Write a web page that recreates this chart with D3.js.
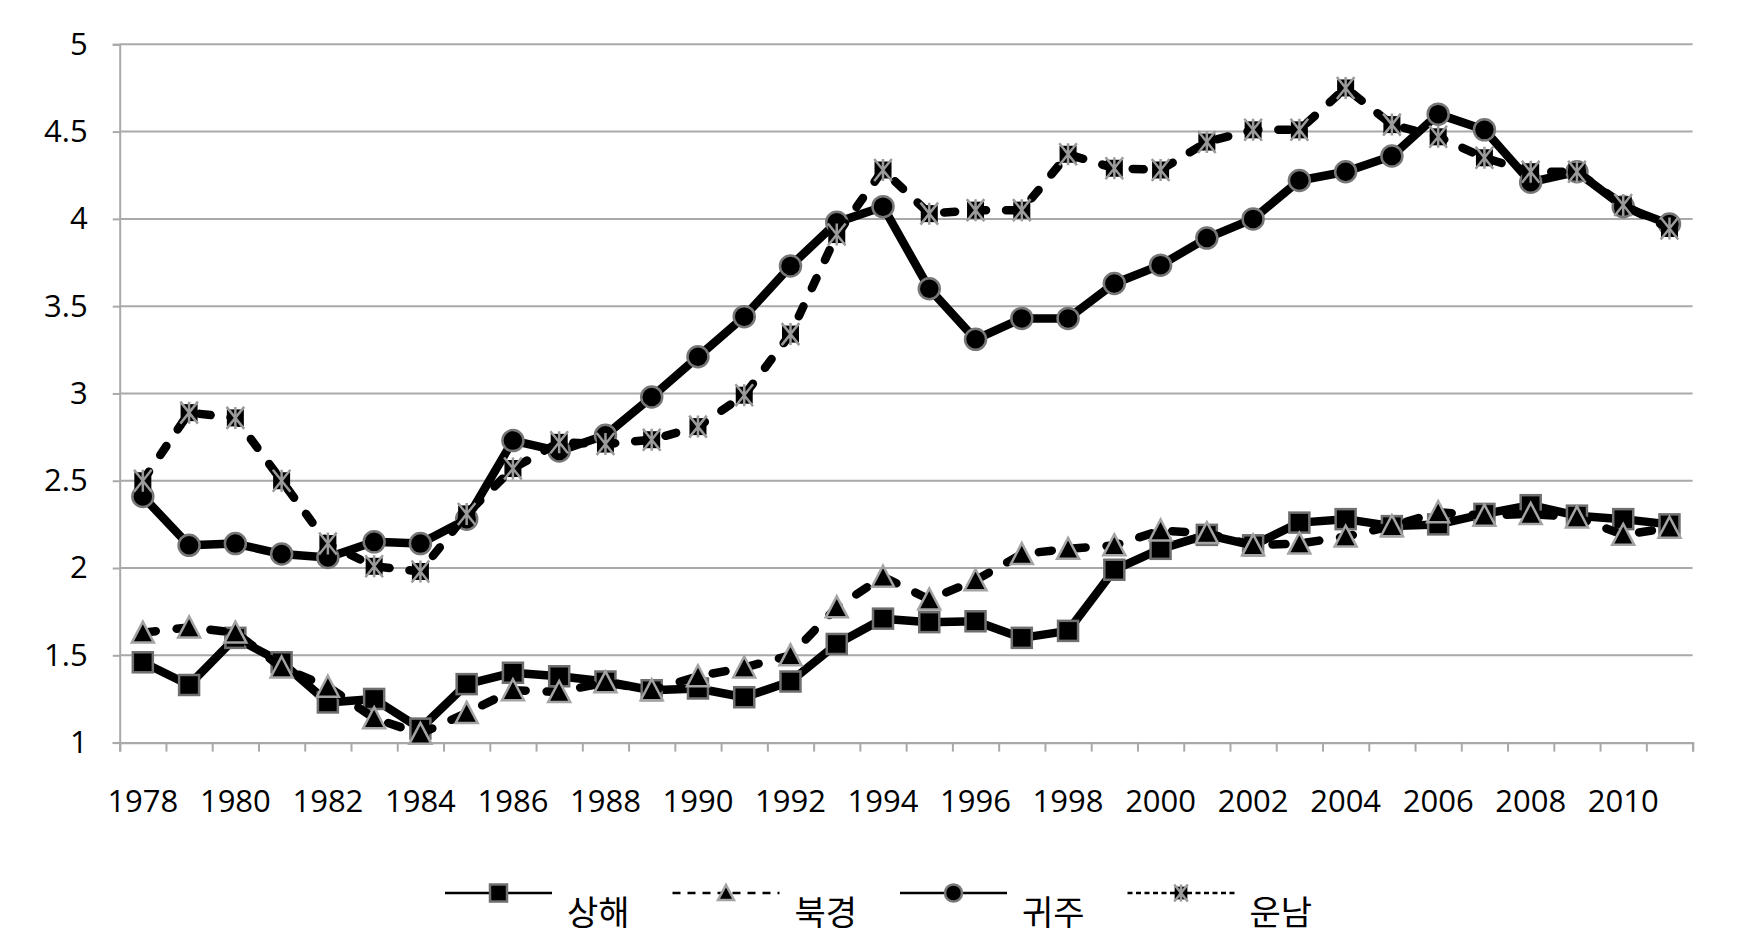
<!DOCTYPE html>
<html>
<head>
<meta charset="utf-8">
<script src="https://cdn.jsdelivr.net/npm/d3@7/dist/d3.min.js"></script>
<style>
  html, body { margin: 0; padding: 0; background: #fff; }
  svg { display: block; }
</style>
</head>
<body>
<svg id="chart" width="1738" height="951"></svg>
<script>
// ---- data ----
const years = d3.range(1978, 2012);
const yTicks = [1, 1.5, 2, 2.5, 3, 3.5, 4, 4.5, 5];
const xLabelYears = years.filter((y, i) => i % 2 === 0);

const seriesNames = ["상해", "북경", "귀주", "운남"];

const shanghai = [1.46, 1.33, 1.60, 1.46, 1.23, 1.25, 1.08, 1.335, 1.40, 1.38,
  1.35, 1.30, 1.31, 1.26, 1.35, 1.565, 1.71, 1.69, 1.695, 1.60,
  1.64, 1.99, 2.11, 2.19, 2.13, 2.26, 2.28, 2.24, 2.25, 2.31,
  2.36, 2.30, 2.28, 2.25];
const beijing = [1.63, 1.66, 1.63, 1.43, 1.32, 1.14, 1.05, 1.17, 1.30, 1.29,
  1.345, 1.30, 1.38, 1.43, 1.50, 1.775, 1.95, 1.82, 1.93, 2.08,
  2.11, 2.13, 2.215, 2.20, 2.13, 2.14, 2.18, 2.24, 2.32, 2.30,
  2.31, 2.29, 2.19, 2.23];
const guizhou = [2.41, 2.13, 2.14, 2.08, 2.06, 2.15, 2.14, 2.28, 2.73, 2.67,
  2.76, 2.98, 3.21, 3.44, 3.73, 3.98, 4.07, 3.60, 3.31, 3.43,
  3.43, 3.63, 3.735, 3.89, 4.00, 4.22, 4.27, 4.36, 4.60, 4.51,
  4.21, 4.27, 4.07, 3.97];
const yunnan = [2.50, 2.89, 2.86, 2.50, 2.14, 2.01, 1.98, 2.31, 2.57, 2.72,
  2.71, 2.735, 2.81, 2.99, 3.34, 3.91, 4.28, 4.03, 4.05, 4.05,
  4.37, 4.29, 4.28, 4.44, 4.51, 4.51, 4.75, 4.54, 4.47, 4.35,
  4.27, 4.27, 4.08, 3.945];

// ---- layout ----
const L = 119.7, R = 1692.6, T = 44.3, B = 742.6;
const svg = d3.select("#chart");
const gridColor = "#a9a9a9";
const numFont = "'Open Sans', 'Noto Sans', sans-serif";
const krFont = "'Noto Sans CJK KR', 'Noto Sans', sans-serif";

const x = d3.scaleBand().domain(years).range([L, R]).padding(0);
const cx = yr => x(yr) + x.bandwidth() / 2;
const y = d3.scaleLinear().domain([1, 5]).range([B, T]);

// gridlines
svg.append("g")
  .selectAll("line").data(yTicks.filter(v => v !== 1)).join("line")
  .attr("x1", L).attr("x2", R)
  .attr("y1", d => y(d)).attr("y2", d => y(d))
  .attr("stroke", gridColor).attr("stroke-width", 2);

// y axis
const yAxis = svg.append("g").attr("transform", `translate(${L},0)`)
  .call(d3.axisLeft(y).tickValues(yTicks).tickSize(7).tickPadding(25).tickFormat(d => String(d)));
yAxis.select(".domain").attr("stroke", gridColor).attr("stroke-width", 2);
yAxis.selectAll(".tick line").attr("stroke", gridColor).attr("stroke-width", 2);
yAxis.selectAll("text").attr("font-family", numFont).attr("font-size", 31).attr("fill", "#000");

// x axis: boundary ticks
const xb = d3.scaleLinear().domain([0, years.length]).range([L, R]);
const xTickAxis = svg.append("g").attr("transform", `translate(0,${B})`)
  .call(d3.axisBottom(xb).tickValues(d3.range(years.length + 1)).tickSize(9).tickFormat(""));
xTickAxis.select(".domain").attr("stroke", gridColor).attr("stroke-width", 2.2);
xTickAxis.selectAll(".tick line").attr("stroke", gridColor).attr("stroke-width", 2);

// x axis labels
const xLabAxis = svg.append("g").attr("transform", `translate(0,${B})`)
  .call(d3.axisBottom(x).tickValues(xLabelYears).tickSize(0).tickPadding(47));
xLabAxis.select(".domain").remove();
xLabAxis.selectAll("text").attr("font-family", numFont).attr("font-size", 31).attr("fill", "#000");

// ---- series ----
const markerStroke = { sq: "#6f6f6f", tri: "#a3a3a3", circ: "#777", star: "#9a9a9a" };

function drawMarker(g, type, px, py, s) {
  if (type === "sq") {
    g.append("rect").attr("x", px - s / 2).attr("y", py - s / 2).attr("width", s).attr("height", s)
      .attr("fill", "#000").attr("stroke", markerStroke.sq).attr("stroke-width", 2.5);
  } else if (type === "tri") {
    const h = s;
    g.append("path")
      .attr("d", `M${px},${py - h / 2 - 1}L${px + s / 2 + 1},${py + h / 2}L${px - s / 2 - 1},${py + h / 2}Z`)
      .attr("fill", "#000").attr("stroke", markerStroke.tri).attr("stroke-width", 2.5)
      .attr("stroke-linejoin", "miter");
  } else if (type === "circ") {
    g.append("circle").attr("cx", px).attr("cy", py).attr("r", s / 2)
      .attr("fill", "#000").attr("stroke", markerStroke.circ).attr("stroke-width", 2.5);
  } else if (type === "star") {
    const q = s * 0.85;
    g.append("rect").attr("x", px - q / 2).attr("y", py - q / 2).attr("width", q).attr("height", q)
      .attr("fill", "#000");
    const a = s / 2 + 1;
    g.append("path")
      .attr("d", `M${px - a * 0.8},${py - a}L${px + a * 0.8},${py + a}M${px + a * 0.8},${py - a}L${px - a * 0.8},${py + a}M${px},${py - a}L${px},${py + a}`)
      .attr("stroke", markerStroke.star).attr("stroke-width", 2.5).attr("fill", "none");
  }
}

const series = [
  { name: seriesNames[0], values: shanghai, marker: "sq", dash: null, size: 20, legendDash: null },
  { name: seriesNames[1], values: beijing, marker: "tri", dash: "13 21", size: 20, legendDash: "8 7" },
  { name: seriesNames[2], values: guizhou, marker: "circ", dash: null, size: 21, legendDash: null },
  { name: seriesNames[3], values: yunnan, marker: "star", dash: "11 20", size: 20, legendDash: "5 3.5" }
];

const line = d3.line().x((d, i) => cx(years[i])).y(d => y(d));

series.forEach(s => {
  const g = svg.append("g");
  g.append("path").attr("d", line(s.values))
    .attr("fill", "none").attr("stroke", "#000").attr("stroke-width", 8.5)
    .attr("stroke-linejoin", "round").attr("stroke-linecap", "round")
    .attr("stroke-dasharray", s.dash);
  s.values.forEach((v, i) => drawMarker(g, s.marker, cx(years[i]), y(v), s.size));
});

// ---- legend ----
const legStart = 445, legStep = 227.5, legLineLen = 107, legY = 893, textDx = 122;
const leg = svg.append("g");
series.forEach((s, i) => {
  const x0 = legStart + i * legStep;
  const gi = leg.append("g");
  gi.append("line").attr("x1", x0).attr("x2", x0 + legLineLen).attr("y1", legY).attr("y2", legY)
    .attr("stroke", "#000").attr("stroke-width", 2.6).attr("stroke-dasharray", s.legendDash);
  const mx = x0 + legLineLen / 2;
  if (s.marker === "tri") drawMarker(gi, "tri", mx, legY, 14);
  else if (s.marker === "star") drawMarker(gi, "star", mx, legY, 15);
  else drawMarker(gi, s.marker, mx, legY, 17);
  gi.append("text").attr("x", x0 + textDx).attr("y", legY + 17)
    .attr("dominant-baseline", "central")
    .attr("font-family", krFont).attr("font-size", 34).attr("fill", "#000")
    .text(s.name);
});
</script>
</body>
</html>
